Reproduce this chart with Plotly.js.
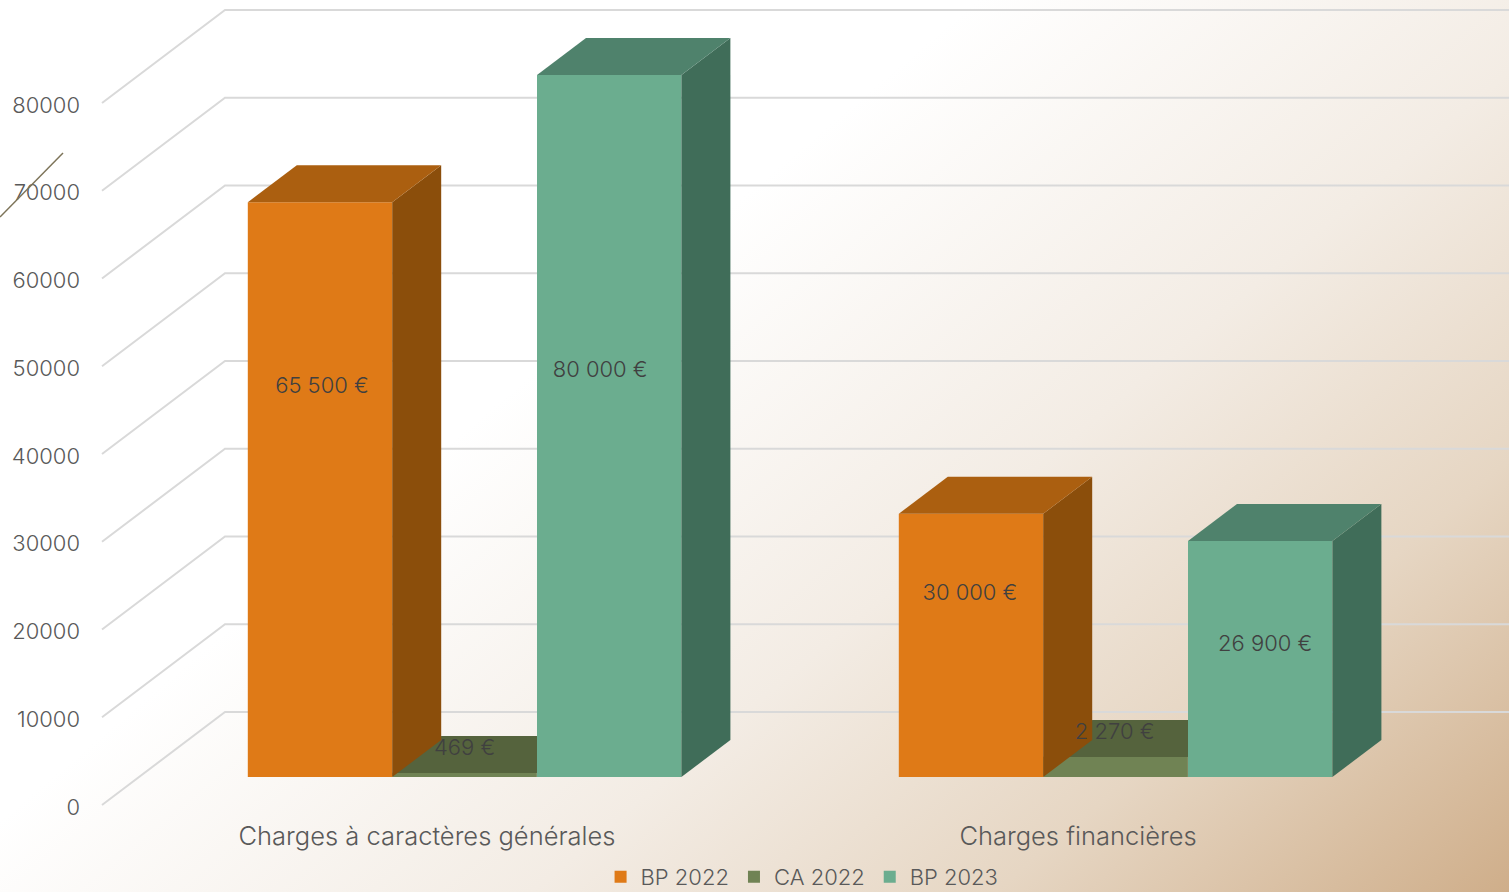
<!DOCTYPE html>
<html><head><meta charset="utf-8">
<script src="https://cdn.plot.ly/plotly-3.0.1.min.js"></script>
<style>
html,body{margin:0;padding:0;width:1509px;height:892px;overflow:hidden;
background:linear-gradient(140deg,#ffffff 0%,#ffffff 38%,#f3ece4 62%,#e6d6c3 80%,#cfae8a 100%);}
#chart{width:1509px;height:892px;}
</style></head><body><div id="chart"></div>
<script>
// ---- data ----
const categories = ["Charges à caractères générales", "Charges financières"];
const bp2022 = [65500, 30000];
const ca2022 = [469, 2270];
const bp2023 = [80000, 26900];
const valueTicks = [0,10000,20000,30000,40000,50000,60000,70000,80000];
const seriesNames = ["BP 2022","CA 2022","BP 2023"];
const labelsBp2022 = ["65 500 €","30 000 €"];
const labelsCa2022 = ["469 €","2 270 €"];
const labelsBp2023 = ["80 000 €","26 900 €"];

// ---- geometry & style ----
const W=1509,H=892,plotH=815,base=777,frontBase=805,backBase=712,tickLabelBase=807;
const s=702/80000;
const barW=144.4, depthX=49, depthV=37/s;
const groupX=[320,971], step=144.6;
const catX=[427,1078];
const frontX=102, backX=225;
const font='Inter, sans-serif';
const numFont={family:font,size:22,weight:300,color:'#595959'};
const C={o:['#DF7A17','#8B4E0B','#AB5F10'],g:['#708354','#55633D','#55633D'],t:['#6BAD8F','#406D59','#4F826C']};
const liftO=[390,183], liftG=[28,44], liftT=[406,132];
const nudgeO=[2,-1], nudgeG=[0,-1], nudgeT=[-9,5];

const traces=[];
valueTicks.forEach(v=>{
  const vals=[v+(base-frontBase)/s, v+(base-backBase)/s, v+(base-backBase)/s];
  traces.push({type:'scatter',mode:'lines',x:[frontX,backX,W],y:vals,xaxis:'x',yaxis:'y',
    line:{color:'#D9D9D9',width:2},showlegend:false,hoverinfo:'skip'});
});
function faces(xc,val,cols,ya){
  xc.forEach((c,i)=>{
    const x0=c-barW/2,x1=c+barW/2,v=val[i];
    traces.push({type:'scatter',mode:'lines',fill:'toself',fillcolor:cols[1],line:{width:0},
      x:[x1,x1+depthX,x1+depthX,x1,x1],y:[0,depthV,v+depthV,v,0],xaxis:'x',yaxis:ya,showlegend:false,hoverinfo:'skip'});
    traces.push({type:'scatter',mode:'lines',fill:'toself',fillcolor:cols[2],line:{width:0},
      x:[x0,x1,x1+depthX,x0+depthX,x0],y:[v,v,v+depthV,v+depthV,v],xaxis:'x',yaxis:ya,showlegend:false,hoverinfo:'skip'});
  });
}
function bar(name,xc,val,col,ya){
  traces.push({type:'bar',name,x:xc,y:val,width:barW,marker:{color:col,line:{width:0}},xaxis:'x',yaxis:ya,hoverinfo:'skip'});
}
const xO=groupX, xG=groupX.map(x=>x+step), xT=groupX.map(x=>x+2*step);
bar(seriesNames[0],xO,bp2022,C.o[0],'y2');
bar(seriesNames[1],xG,ca2022,C.g[0],'y');
bar(seriesNames[2],xT,bp2023,C.t[0],'y2');
faces(xG,ca2022,C.g,'y');
faces(xO,bp2022,C.o,'y2');
faces(xT,bp2023,C.t,'y2');
function labels(xc,txt,lift,nudge){
  traces.push({type:'scatter',mode:'text',x:xc.map((x,i)=>x+nudge[i]),y:lift.map(l=>l/s),text:txt,
    textposition:'middle center',textfont:Object.assign({},numFont,{color:'#404040'}),cliponaxis:false,
    xaxis:'x',yaxis:'y2',showlegend:false,hoverinfo:'skip'});
}
labels(xO,labelsBp2022,liftO,nudgeO);
labels(xG,labelsCa2022,liftG,nudgeG);
labels(xT,labelsBp2023,liftT,nudgeT);
traces.push({type:'scatter',mode:'none',x:[frontX],y:[0],xaxis:'x',yaxis:'y3',showlegend:false,hoverinfo:'skip'});

const mainRange=[(base-plotH)/s,base/s];
const hidden={visible:false,range:mainRange,fixedrange:true};
const layout={
  width:W,height:H,margin:{l:0,r:0,t:0,b:H-plotH,pad:0,autoexpand:false},
  paper_bgcolor:'rgba(0,0,0,0)',plot_bgcolor:'rgba(0,0,0,0)',
  barmode:'overlay',showlegend:true,hovermode:false,
  font:{family:font,color:'#595959',size:22},
  xaxis:{range:[0,W],showgrid:false,zeroline:false,showline:false,ticks:'',automargin:false,
    tickmode:'array',tickvals:catX,ticktext:categories,tickfont:{family:font,size:25.5,weight:300,color:'#595959'},ticklabelstandoff:3},
  yaxis:Object.assign({},hidden),
  yaxis2:Object.assign({},hidden,{overlaying:'y'}),
  yaxis3:{overlaying:'y',anchor:'free',position:80/W,side:'left',range:[(tickLabelBase-plotH)/s,tickLabelBase/s],automargin:false,
    showgrid:false,zeroline:false,showline:false,ticks:'',tickmode:'array',tickvals:valueTicks,
    ticktext:valueTicks.map(String),tickfont:numFont},
  legend:{orientation:'h',x:0.398,xanchor:'left',y:(plotH-856)/plotH,yanchor:'top',
    font:numFont,bgcolor:'rgba(0,0,0,0)',itemwidth:30,traceorder:'normal'},
  shapes:[{type:'line',xref:'paper',yref:'paper',x0:0,x1:63/W,y0:(plotH-217)/plotH,y1:(plotH-153)/plotH,
    line:{color:'#7D7459',width:1.5}}]
};
Plotly.newPlot('chart',traces,layout,{displayModeBar:false,staticPlot:true});
</script></body></html>
